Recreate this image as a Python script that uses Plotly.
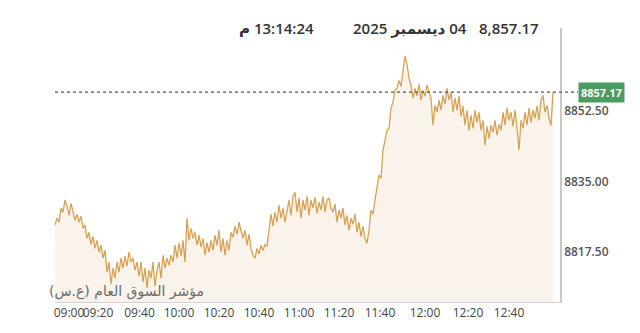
import plotly.graph_objects as go

# Index values (tick per reading on an evenly spaced sample axis)
values = [
    # 09:00 - 09:20
    8824.2, 8825.9, 8824.9, 8828.4, 8827.4, 8830.4, 8828.9, 8826.6, 8829.6, 8827.4,
    8825.4, 8826.9, 8824.9, 8826.4, 8823.4, 8824.2, 8820.9, 8822.4, 8819.4, 8821.4,
    8818.4, 8820.4, 8817.5,
    # 09:20 - 10:05
    8819.2, 8816.0, 8817.9, 8812.5, 8815.0, 8809.5, 8813.5, 8811.0, 8815.0, 8812.5,
    8816.0, 8813.5, 8816.5, 8814.0, 8817.5, 8815.0, 8816.0, 8813.0, 8815.0, 8811.5,
    8815.0, 8810.0, 8813.5, 8808.5, 8813.0, 8811.0, 8815.0, 8809.0, 8813.0, 8815.0,
    8811.0, 8816.7, 8813.5, 8816.0, 8814.2, 8816.7, 8815.0, 8819.2, 8816.0, 8819.7,
    8816.5, 8820.4, 8815.0, 8825.9, 8820.4, 8823.4, 8820.9, 8822.4, 8819.2, 8821.7,
    # 10:05 - 11:00
    8818.7, 8820.9, 8816.7, 8819.9, 8817.5, 8820.4, 8817.9, 8821.7, 8819.2, 8822.9,
    8817.5, 8820.9, 8816.7, 8820.4, 8817.9, 8822.4, 8821.2, 8823.9, 8821.9, 8824.9,
    8822.9, 8820.9, 8822.9, 8819.2, 8821.9, 8818.4, 8816.7, 8816.0, 8818.4, 8817.0,
    8819.2, 8817.9, 8819.4, 8818.9, 8822.9, 8826.9, 8823.9, 8827.4, 8824.9, 8829.1,
    8825.9, 8828.4, 8824.9, 8827.4, 8830.4, 8826.6, 8831.3, 8832.3, 8827.4, 8830.9,
    # 11:00 - 11:50
    8825.9, 8830.4, 8827.9, 8831.3, 8826.6, 8830.4, 8828.4, 8831.1, 8827.1, 8829.9,
    8827.9, 8831.3, 8827.4, 8830.4, 8830.9, 8828.4, 8827.4, 8829.4, 8824.9, 8827.9,
    8825.9, 8828.4, 8824.2, 8826.6, 8822.9, 8825.9, 8824.4, 8826.9, 8822.4, 8824.9,
    8821.4, 8823.9, 8820.9, 8819.7, 8822.9, 8827.9, 8826.9, 8830.4, 8834.1, 8836.6,
    8835.8, 8842.8, 8845.2, 8847.7, 8848.2, 8853.2, 8854.7, 8857.6, 8858.1, 8860.1,
    # 11:50 - 12:35
    8858.6, 8862.1, 8866.1, 8864.1, 8860.6, 8858.9, 8855.7, 8858.1, 8856.2, 8859.1,
    8855.2, 8857.6, 8856.2, 8858.9, 8857.1, 8855.7, 8849.0, 8853.9, 8852.2, 8855.2,
    8852.7, 8856.4, 8854.2, 8858.1, 8855.2, 8857.1, 8852.2, 8855.7, 8852.7, 8856.2,
    8851.2, 8853.7, 8849.0, 8852.7, 8847.7, 8851.4, 8848.2, 8852.7, 8849.7, 8852.2,
    8847.7, 8850.2, 8844.0, 8848.7, 8845.7, 8849.0, 8847.2, 8850.2, 8846.5, 8849.2,
    # 12:35 - 13:14
    8847.7, 8852.2, 8849.0, 8853.2, 8850.2, 8852.2, 8848.7, 8852.7, 8848.2, 8842.8,
    8850.2, 8848.2, 8852.2, 8849.0, 8853.2, 8849.7, 8852.7, 8850.7, 8853.7, 8850.2,
    8855.2, 8856.4, 8852.2, 8853.9, 8850.7, 8849.0, 8857.17,
]
idx = list(range(len(values)))

# Time tick labels and their sample positions
tick_labels = ["09:20", "09:40", "10:00", "10:20", "10:40", "11:00",
               "11:20", "11:40", "12:00", "12:20", "12:40"]
tick_pos = [21.5, 42.25, 62, 82, 102, 122, 142, 162.5, 185, 206.5, 227]
first_label = "09:00"
first_pos = 1

price_ticks = [8817.5, 8835.0, 8852.5]
y_range = [8805.1, 8873.1]
x_range = [0, 252.5]

title_value = "8,857.17"
title_date = "04 ديسمبر 2025"
title_time = "13:14:24 م"
index_name = "مؤشر السوق العام (ع.س)"

last = values[-1]
RLE, PDF = "\u202b", "\u202c"

fig = go.Figure()
fig.add_trace(go.Scatter(
    x=idx, y=values, mode="lines",
    line=dict(color="#d6a354", width=1.3),
    fill="tozeroy", fillcolor="#faf3ec",
    hoverinfo="skip", showlegend=False,
))
# helper trace for the shifted first time label
fig.add_trace(go.Scatter(
    x=[first_pos], y=[values[first_pos]], mode="markers",
    marker=dict(opacity=0), xaxis="x2", hoverinfo="skip", showlegend=False,
))

tickfont = dict(family="Open Sans, DejaVu Sans, sans-serif", size=12, color="#444444")

fig.update_layout(
    width=640, height=333,
    margin=dict(l=55, r=80, t=28, b=31),
    paper_bgcolor="white", plot_bgcolor="white",
    xaxis=dict(
        range=x_range, tickvals=tick_pos, ticktext=tick_labels,
        showgrid=False, zeroline=False, ticks="",
        showline=True, linecolor="#d4d4d4", linewidth=1,
        tickfont=tickfont,
    ),
    xaxis2=dict(
        range=x_range, overlaying="x", anchor="y", side="bottom",
        tickvals=[first_pos], ticktext=[first_label], ticklabelshift=12,
        showgrid=False, zeroline=False, ticks="",
        showline=True, linecolor="rgba(0,0,0,0)", linewidth=1,
        tickfont=tickfont,
    ),
    yaxis=dict(
        range=y_range, side="right",
        tickvals=price_ticks, ticktext=[f"{v:.2f}" for v in price_ticks],
        showgrid=False, zeroline=False, ticks="",
        showline=True, linecolor="#c8c8c8", linewidth=1.5,
        tickfont=dict(family="Open Sans, DejaVu Sans, sans-serif", size=12,
                      color="#555555", weight=600),
    ),
    shapes=[dict(
        type="line", xref="paper", yref="y",
        x0=0, x1=1.0356, y0=last, y1=last,
        line=dict(color="#555555", width=1.3, dash="dot"),
    )],
)

title_font = dict(family="Open Sans, DejaVu Sans, sans-serif", size=15,
                  color="#333333", weight=600)
fig.add_annotation(text=title_value, xref="paper", yref="paper",
                   x=(541 - 55) / 505, y=1.0, yanchor="bottom", xanchor="right",
                   yshift=-12, showarrow=False, font=title_font)
fig.add_annotation(text=f"{RLE}{title_date}{PDF}", xref="paper", yref="paper",
                   x=(469 - 55) / 505, y=1.0, yanchor="bottom", xanchor="right",
                   yshift=-12, showarrow=False, font=title_font)
fig.add_annotation(text=f"{RLE}{title_time}{PDF}", xref="paper", yref="paper",
                   x=(316 - 55) / 505, y=1.0, yanchor="bottom", xanchor="right",
                   yshift=-12, showarrow=False, font=title_font)

# last-price tag
fig.add_annotation(text=f"<b>{last:.2f}</b>", xref="paper", yref="y",
                   x=1.0356, y=last, xanchor="left", yanchor="middle",
                   showarrow=False, bgcolor="#4e9b61", borderpad=2,
                   font=dict(family="Open Sans, DejaVu Sans, sans-serif", size=11, color="white"))

# index name label
fig.add_annotation(text=f"{RLE}{index_name}{PDF}", xref="paper", yref="paper",
                   x=(47 - 55) / 505, y=0, xanchor="left", yanchor="bottom",
                   yshift=0, showarrow=False,
                   font=dict(family="DejaVu Sans, sans-serif", size=14, color="#6a6a6a"))

fig.write_html("out.html")
